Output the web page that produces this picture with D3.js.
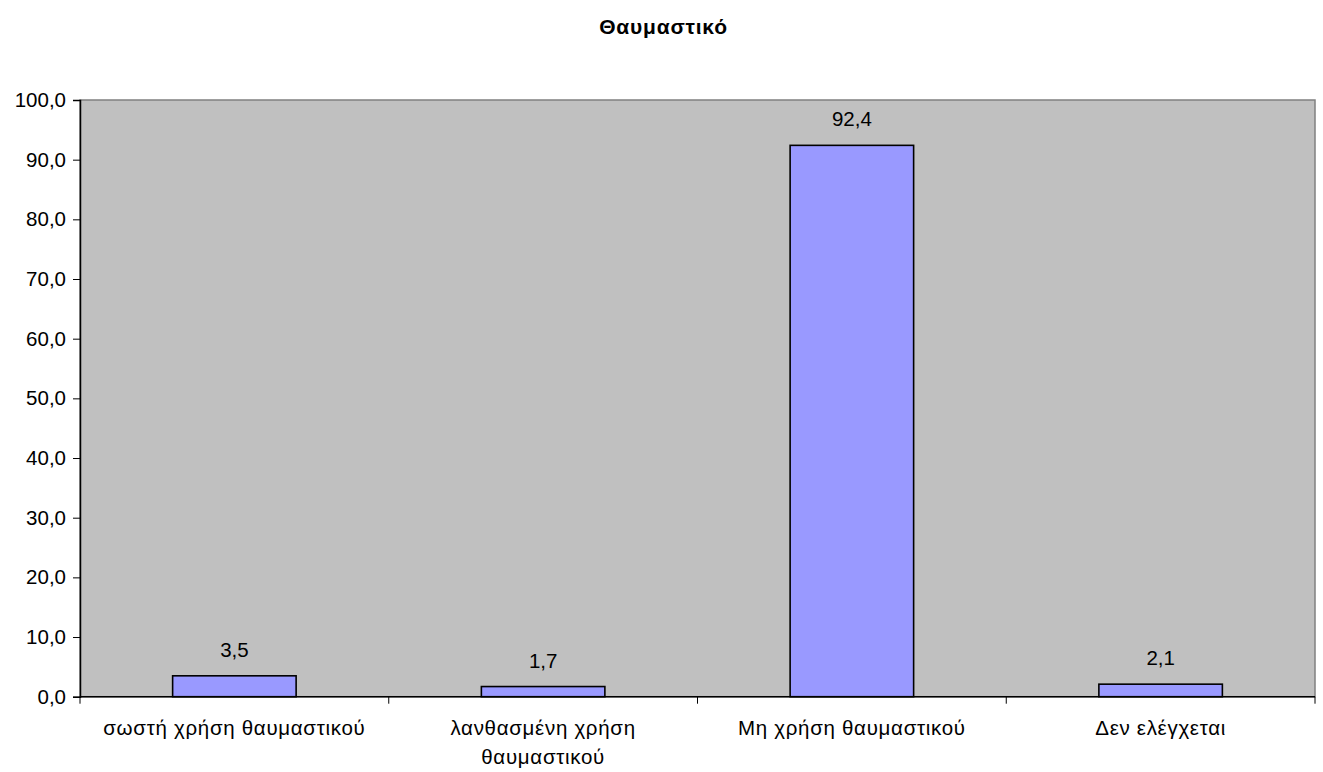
<!DOCTYPE html>
<html>
<head>
<meta charset="utf-8">
<script src="https://cdn.jsdelivr.net/npm/d3@7"></script>
<style>
  html, body { margin: 0; padding: 0; background: #fff; }
  svg { display: block; }
  text { font-family: "Liberation Sans", Arial, sans-serif; fill: #000; }
</style>
</head>
<body>
<svg id="chart" width="1323" height="772"></svg>
<script>
// Chart data
const title = "Θαυμαστικό";
const categories = [
  ["σωστή χρήση θαυμαστικού"],
  ["λανθασμένη χρήση", "θαυμαστικού"],
  ["Μη χρήση θαυμαστικού"],
  ["Δεν ελέγχεται"]
];
const values = [3.5, 1.7, 92.4, 2.1];
const yTicks = [0, 10, 20, 30, 40, 50, 60, 70, 80, 90, 100];

const svg = d3.select("#chart");
const margin = { left: 80, right: 8, top: 100, bottom: 75.3 };
const W = 1323, H = 772;
const plotW = W - margin.left - margin.right;
const plotH = H - margin.top - margin.bottom;

const fmt = v => v.toFixed(1).replace(".", ",");

const x = d3.scaleBand()
  .domain(d3.range(categories.length))
  .range([0, plotW])
  .paddingInner(0.6)
  .paddingOuter(0.3);
const y = d3.scaleLinear().domain([0, 100]).range([plotH, 0]);

// Title
svg.append("text")
  .attr("x", W / 2 + 2).attr("y", 34)
  .attr("text-anchor", "middle")
  .style("font-size", "21px").style("font-weight", "bold")
  .style("letter-spacing", "0.8px")
  .text(title);

const g = svg.append("g").attr("transform", `translate(${margin.left},${margin.top})`);

// Plot background with grey frame
g.append("rect")
  .attr("x", 0).attr("y", 0).attr("width", plotW).attr("height", plotH)
  .attr("fill", "#C0C0C0").attr("stroke", "#808080").attr("stroke-width", 1.5);

// Bars
g.selectAll("rect.bar").data(values).enter().append("rect")
  .attr("class", "bar")
  .attr("x", (d, i) => x(i))
  .attr("width", x.bandwidth())
  .attr("y", d => y(d))
  .attr("height", d => y(0) - y(d))
  .attr("fill", "#9999FF").attr("stroke", "#000").attr("stroke-width", 1.6);

// Value labels
g.selectAll("text.val").data(values).enter().append("text")
  .attr("class", "val")
  .attr("x", (d, i) => x(i) + x.bandwidth() / 2)
  .attr("y", d => y(d) - 19)
  .attr("text-anchor", "middle")
  .style("font-size", "20.5px")
  .text(fmt);

// Y axis
const yAxis = d3.axisLeft(y).tickValues(yTicks).tickFormat(fmt).tickSize(7).tickPadding(7);
const ya = g.append("g").call(yAxis);
ya.select(".domain").attr("stroke", "#000").attr("stroke-width", 1.5);
ya.selectAll(".tick line").attr("stroke", "#000");
ya.selectAll(".tick text").style("font-size", "20.5px").style("font-family", "Liberation Sans, Arial, sans-serif").attr("fill", "#000");

// X axis baseline and category separators
const xa = g.append("g").attr("transform", `translate(0,${plotH})`);
xa.append("line").attr("x1", 0).attr("x2", plotW).attr("stroke", "#000").attr("stroke-width", 1.5);
const bounds = d3.range(categories.length + 1).map(i => i * plotW / categories.length);
xa.selectAll("line.sep").data(bounds).enter().append("line")
  .attr("class", "sep")
  .attr("x1", d => d).attr("x2", d => d)
  .attr("y1", 0).attr("y2", 7)
  .attr("stroke", "#000").attr("stroke-width", 1);

// Category labels
const labels = xa.selectAll("text.cat").data(categories).enter().append("text")
  .attr("class", "cat")
  .attr("text-anchor", "middle")
  .style("font-size", "20.5px")
  .style("letter-spacing", "0.7px");
labels.each(function (lines, i) {
  const t = d3.select(this);
  lines.forEach((ln, k) => {
    t.append("tspan")
      .attr("x", x(i) + x.bandwidth() / 2)
      .attr("y", 38 + k * 29)
      .text(ln);
  });
});
</script>
</body>
</html>
